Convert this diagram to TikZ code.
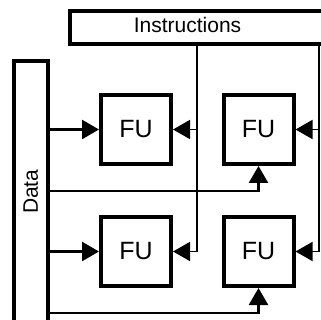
\documentclass[tikz,border=0pt]{standalone}
\usepackage{fontspec}
\setmainfont{Liberation Sans}
\usetikzlibrary{arrows.meta}
\begin{document}
\begin{tikzpicture}[x=1pt,y=-1pt,
  box/.style={draw, line width=4pt, inner sep=0pt},
  fu/.style={box, minimum width=70pt, minimum height=69pt, font=\fontsize{25}{30}\selectfont},
  conn/.style={line width=2.5pt, -{Triangle[length=17pt,width=19pt]}},
  thinconn/.style={line width=1.6pt, -{Triangle[length=17pt,width=19pt]}},
  lbl/.style={font=\fontsize{21}{25}\selectfont, inner sep=0pt}
]
\useasboundingbox (0,0) rectangle (321,320);
\clip (0,0) rectangle (321,320);

\node[fu] (fu1) at (136,129.5) {FU};
\node[fu] (fu2) at (258.5,129.5) {FU};
\node[fu] (fu3) at (136,251.5) {FU};
\node[fu] (fu4) at (258.5,251.5) {FU};

\node[box, minimum width=33.7pt, minimum height=261pt] (data) at (30.85,191.8)
  {\fontsize{21}{25}\selectfont\rotatebox{90}{Data}};

\node[box, minimum width=280pt, minimum height=33.3pt, anchor=north west] (instrbox) at (67.5,8.7) {};
\node[lbl] (instr) at (187.5,25.3) {Instructions};

\coordinate (ia) at (196.7,42);
\coordinate (ib) at (319,42);
\coordinate (da) at (258.5,191);
\coordinate (db) at (258.5,313);

\draw[thinconn] (ia) |- (fu3.east);
\draw[thinconn] (ia |- fu1.east) -- (fu1.east);
\draw[thinconn] (ib) |- (fu4.east);
\draw[thinconn] (ib |- fu2.east) -- (fu2.east);

\draw[conn] (data.east |- fu1.west) -- (fu1.west);
\draw[conn] (data.east |- fu3.west) -- (fu3.west);
\draw[conn] (data.east |- da) -| (fu2.south);
\draw[conn] (data.east |- db) -| (fu4.south);
\end{tikzpicture}
\end{document}
